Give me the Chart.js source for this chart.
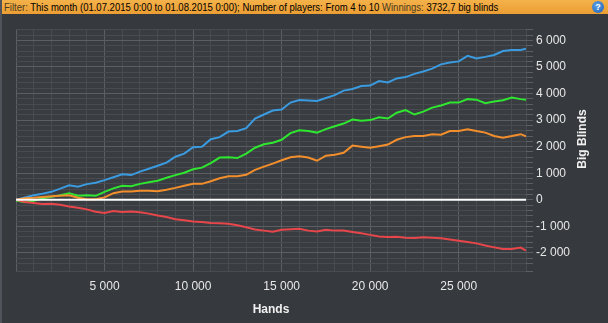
<!DOCTYPE html>
<html lang="en">
<head>
  <meta charset="UTF-8">
  <title>Winnings graph</title>
  <style>
    html, body {
      margin: 0;
      padding: 0;
      background: #36393d;
      width: 608px;
      height: 323px;
      overflow: hidden;
    }
    .wrap {
      position: relative;
      width: 608px;
      height: 323px;
      border-left: 2px solid #50545a;
      box-sizing: border-box;
    }
    .filter {
      position: absolute;
      left: 0; top: 0; right: 0;
      height: 14px;
      background: linear-gradient(#f4b24a, #eb9d33);
      z-index: 2;
    }
    .filter .txt {
      position: absolute;
      left: 2px; top: 0;
      font: 11px "Liberation Sans", Arial, sans-serif;
      line-height: 14px;
      color: #000;
      white-space: nowrap;
      transform: scaleX(0.865);
      transform-origin: 0 0;
    }
    .filter .lbl { color: #4a3a20; }
    .help {
      position: absolute;
      right: 4px; top: 1px;
      width: 12px; height: 12px;
      border-radius: 50%;
      background: radial-gradient(circle at 40% 35%, #5aa0e8, #1f5fb0);
      color: #fff;
      font: bold 9px "Liberation Sans", Arial, sans-serif;
      line-height: 12px;
      text-align: center;
    }
    canvas { position: absolute; left: -2px; top: 0; }
  </style>
  <script src="https://cdnjs.cloudflare.com/ajax/libs/Chart.js/4.4.1/chart.umd.min.js"></script>
</head>
<body>
  <div class="wrap">
    <div class="filter">
      <span class="txt"><span class="lbl">Filter:</span> This month (01.07.2015 0:00 to 01.08.2015 0:00); Number of players: From 4 to 10 <span class="lbl">Winnings:</span> 3732,7 big blinds</span>
      <span class="help">?</span>
    </div>
    <canvas id="myChart" width="608" height="323"></canvas>
  </div>

  <script>
    // hands played (x)
    const hands = [0, 500, 1000, 1500, 2000, 2500, 3000, 3500, 4000, 4500, 5000, 5500, 6000, 6500, 7000, 7500,
      8000, 8500, 9000, 9500, 10000, 10500, 11000, 11500, 12000, 12500, 13000, 13500, 14000, 14500, 15000,
      15500, 16000, 16500, 17000, 17500, 18000, 18500, 19000, 19500, 20000, 20500, 21000, 21500, 22000,
      22500, 23000, 23500, 24000, 24500, 25000, 25500, 26000, 26500, 27000, 27500, 28000, 28500, 28800];

    // big blinds per line
    const blueLine = [0, 90, 170, 230, 300, 420, 550, 490, 590, 640, 740, 850, 960, 930, 1060, 1170,
      1280, 1400, 1620, 1740, 1980, 2000, 2280, 2360, 2570, 2590, 2700, 3060, 3210, 3360, 3400,
      3660, 3760, 3740, 3720, 3830, 3940, 4110, 4170, 4280, 4300, 4470, 4420, 4570, 4620,
      4740, 4830, 4940, 5100, 5170, 5210, 5420, 5320, 5380, 5450, 5600, 5640, 5640, 5690];
    const greenLine = [-30, -90, -40, 60, 110, 170, 250, 150, 170, 150, 300, 430, 530, 510, 600, 660,
      720, 830, 930, 1020, 1150, 1210, 1380, 1590, 1600, 1570, 1740, 1960, 2090, 2150, 2260,
      2510, 2620, 2590, 2530, 2660, 2770, 2870, 3020, 2980, 3000, 3110, 3060, 3280, 3380,
      3210, 3320, 3470, 3550, 3660, 3660, 3790, 3770, 3640, 3700, 3750, 3850, 3790, 3770];
    const orangeLine = [0, 60, 80, 110, 130, 150, 170, 80, 20, 20, 90, 250, 310, 310, 340, 340,
      320, 380, 450, 530, 600, 600, 700, 810, 890, 890, 940, 1130, 1250, 1360, 1490,
      1600, 1640, 1590, 1470, 1660, 1700, 1770, 2040, 2000, 1960, 2020, 2080, 2260, 2360,
      2400, 2400, 2470, 2450, 2590, 2590, 2660, 2590, 2530, 2400, 2340, 2400, 2470, 2390];
    const redLine = [0, -80, -120, -160, -150, -190, -250, -300, -360, -450, -500, -420, -460, -440, -470, -520,
      -590, -650, -730, -770, -820, -840, -870, -880, -900, -960, -1030, -1120, -1160, -1200, -1130,
      -1110, -1090, -1160, -1190, -1130, -1160, -1160, -1210, -1260, -1320, -1380, -1400, -1390, -1430,
      -1440, -1410, -1430, -1450, -1490, -1540, -1590, -1640, -1720, -1790, -1850, -1850, -1800, -1910];

    const X_MAX = 28800;

    const fmt = (v) => {
      const s = Math.abs(v).toString().replace(/\B(?=(\d{3})+(?!\d))/g, ' ');
      return (v < 0 ? '-' : '') + s;
    };

    const toPoints = (arr) => arr.map((v, i) => ({ x: hands[i], y: v }));

    const FONT = '"Liberation Sans", Arial, sans-serif';

    // plot background, zero line and rotated axis title
    const decor = {
      id: 'decor',
      beforeDraw(chart) {
        const { ctx, chartArea: a } = chart;
        ctx.save();
        ctx.fillStyle = '#393c40';
        ctx.fillRect(a.left, a.top, a.right - a.left, a.bottom - a.top);
        ctx.restore();
      },
      afterDatasetsDraw(chart) {
        const { ctx, chartArea: a, scales } = chart;
        const y0 = scales.y.getPixelForValue(0);
        ctx.save();
        ctx.strokeStyle = '#ffffff';
        ctx.lineWidth = 2;
        ctx.beginPath();
        ctx.moveTo(a.left, y0);
        ctx.lineTo(a.right, y0);
        ctx.stroke();

        ctx.translate(583, (a.top + a.bottom) / 2 - 11);
        ctx.rotate(-Math.PI / 2);
        ctx.fillStyle = '#f0f0f0';
        ctx.font = 'bold 12px ' + FONT;
        ctx.textAlign = 'center';
        ctx.textBaseline = 'middle';
        ctx.fillText('Big Blinds', 0, 0);
        ctx.restore();
      }
    };

    const line = (data, color) => ({
      data: toPoints(data),
      borderColor: color,
      borderWidth: 2,
      pointRadius: 0,
      tension: 0,
      fill: false,
    });

    new Chart(document.getElementById('myChart'), {
      type: 'line',
      data: {
        datasets: [
          line(redLine, '#e8464a'),
          line(orangeLine, '#f28f2c'),
          line(greenLine, '#2fe630'),
          line(blueLine, '#3b9be0'),
        ],
      },
      options: {
        responsive: false,
        animation: false,
        layout: { padding: { left: 16, top: 29, right: 0, bottom: 0 } },
        plugins: { legend: { display: false }, tooltip: { enabled: false } },
        scales: {
          x: {
            type: 'linear',
            min: 0,
            max: X_MAX,
            afterFit: (s) => { s.height = 52; },
            // grid every 1000 hands (stepSize alone gets rescaled by chart.js here)
            afterBuildTicks: (s) => {
              const t = [];
              for (let v = 0; v < X_MAX; v += 1000) t.push({ value: v });
              t.push({ value: X_MAX });
              s.ticks = t;
            },
            border: { display: false },
            grid: {
              drawTicks: false,
              color: (c) => (c.tick.value % 5000 === 0 ? '#5b5e63' : '#484b4f'),
            },
            ticks: {
              autoSkip: false,
              maxRotation: 0,
              padding: 8,
              color: '#e8e8e8',
              font: { family: FONT, size: 12 },
              callback: (v) => (v % 5000 === 0 && v > 0 ? fmt(v) : ''),
            },
            title: {
              display: true,
              text: 'Hands',
              color: '#f0f0f0',
              font: { family: FONT, size: 12, weight: 'bold' },
              padding: { top: 0, bottom: 6 },
            },
          },
          y: {
            position: 'right',
            min: -2680,
            max: 6430,
            afterFit: (s) => { s.width = 82; },
            border: { display: false },
            grid: {
              tickLength: 7,
              color: (c) => (c.tick.value % 1000 === 0 ? '#5b5e63' : '#484b4f'),
              tickColor: '#5b5e63',
            },
            ticks: {
              stepSize: 200,
              autoSkip: false,
              padding: 3,
              color: '#e8e8e8',
              font: { family: FONT, size: 12 },
              callback: (v) => (v % 1000 === 0 ? fmt(v) : ''),
            },
          },
        },
      },
      plugins: [decor],
    });
  </script>
</body>
</html>
